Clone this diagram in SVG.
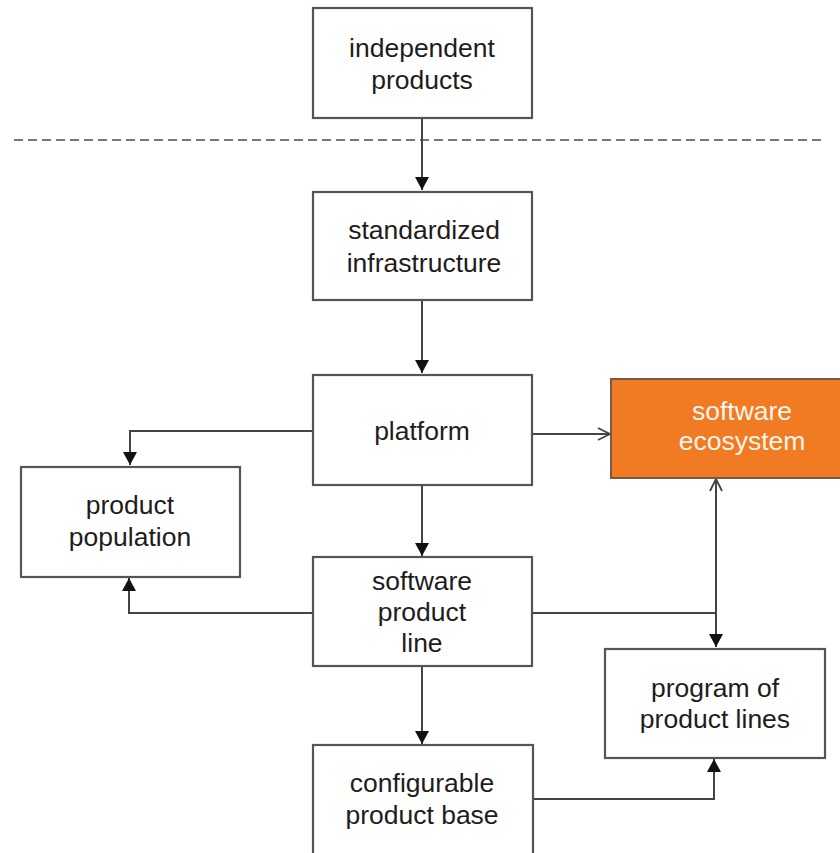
<svg xmlns="http://www.w3.org/2000/svg" width="840" height="853" viewBox="0 0 840 853">
<style>
.box{fill:#fff;stroke:#555;stroke-width:2.2}
.eco{fill:#f07b22;stroke:#7a5a44;stroke-width:2}
.t{font-family:"Liberation Sans",Arial,sans-serif;font-size:26.5px;fill:#1f1c1c;text-anchor:middle}
.tw{font-family:"Liberation Sans",Arial,sans-serif;font-size:26.5px;fill:#fff4ec;text-anchor:middle}
.ln{fill:none;stroke:#444;stroke-width:2}
</style>
<defs>
<marker id="fill" viewBox="0 0 13 14" refX="13" refY="7" markerWidth="13" markerHeight="14" markerUnits="userSpaceOnUse" orient="auto">
<path d="M0,0 L13,7 L0,14 Z" fill="#111"/>
</marker>
<marker id="open" viewBox="0 0 14 14" refX="13" refY="7" markerWidth="14" markerHeight="14" markerUnits="userSpaceOnUse" orient="auto-start-reverse">
<path d="M1,1 L13,7 L1,13" fill="none" stroke="#444" stroke-width="1.8"/>
</marker>
</defs>
<rect width="840" height="853" fill="#fff"/>
<line x1="14" y1="140" x2="822" y2="140" stroke="#777" stroke-width="2" stroke-dasharray="9,5"/>
<g id="connectors">
<path class="ln" d="M422,118 V190" marker-end="url(#fill)"/>
<path class="ln" d="M422,300 V373" marker-end="url(#fill)"/>
<path class="ln" d="M313,431 H130 V465" marker-end="url(#fill)"/>
<path class="ln" d="M532,434 H610" marker-end="url(#open)"/>
<path class="ln" d="M422,485 V556" marker-end="url(#fill)"/>
<path class="ln" d="M313,613 H129 V578" marker-end="url(#fill)"/>
<path class="ln" d="M532,613 H716"/>
<path class="ln" d="M716,479 V647" marker-start="url(#open)" marker-end="url(#fill)"/>
<path class="ln" d="M422,666 V744" marker-end="url(#fill)"/>
<path class="ln" d="M533,799 H714 V759" marker-end="url(#fill)"/>
</g>
<g id="independent-products">
<rect class="box" x="313" y="8" width="219" height="110"/>
<text class="t" x="422" y="57">independent</text>
<text class="t" x="422" y="89">products</text>
</g>
<g id="standardized-infrastructure">
<rect class="box" x="313" y="192" width="219" height="108"/>
<text class="t" x="424" y="239">standardized</text>
<text class="t" x="424" y="272">infrastructure</text>
</g>
<g id="platform">
<rect class="box" x="313" y="375" width="219" height="110"/>
<text class="t" x="422" y="440">platform</text>
</g>
<g id="software-ecosystem">
<rect class="eco" x="611" y="379" width="262" height="99"/>
<text class="tw" x="742" y="420">software</text>
<text class="tw" x="742" y="450">ecosystem</text>
</g>
<g id="product-population">
<rect class="box" x="21" y="467" width="219" height="110"/>
<text class="t" x="130" y="514">product</text>
<text class="t" x="130" y="546">population</text>
</g>
<g id="software-product-line">
<rect class="box" x="313" y="557" width="219" height="109"/>
<text class="t" x="422" y="590">software</text>
<text class="t" x="422" y="621">product</text>
<text class="t" x="422" y="652">line</text>
</g>
<g id="program-of-product-lines">
<rect class="box" x="605" y="649" width="220" height="109"/>
<text class="t" x="715" y="697">program of</text>
<text class="t" x="715" y="728">product lines</text>
</g>
<g id="configurable-product-base">
<rect class="box" x="313" y="745" width="220" height="120"/>
<text class="t" x="422" y="792">configurable</text>
<text class="t" x="422" y="824">product base</text>
</g>
</svg>
